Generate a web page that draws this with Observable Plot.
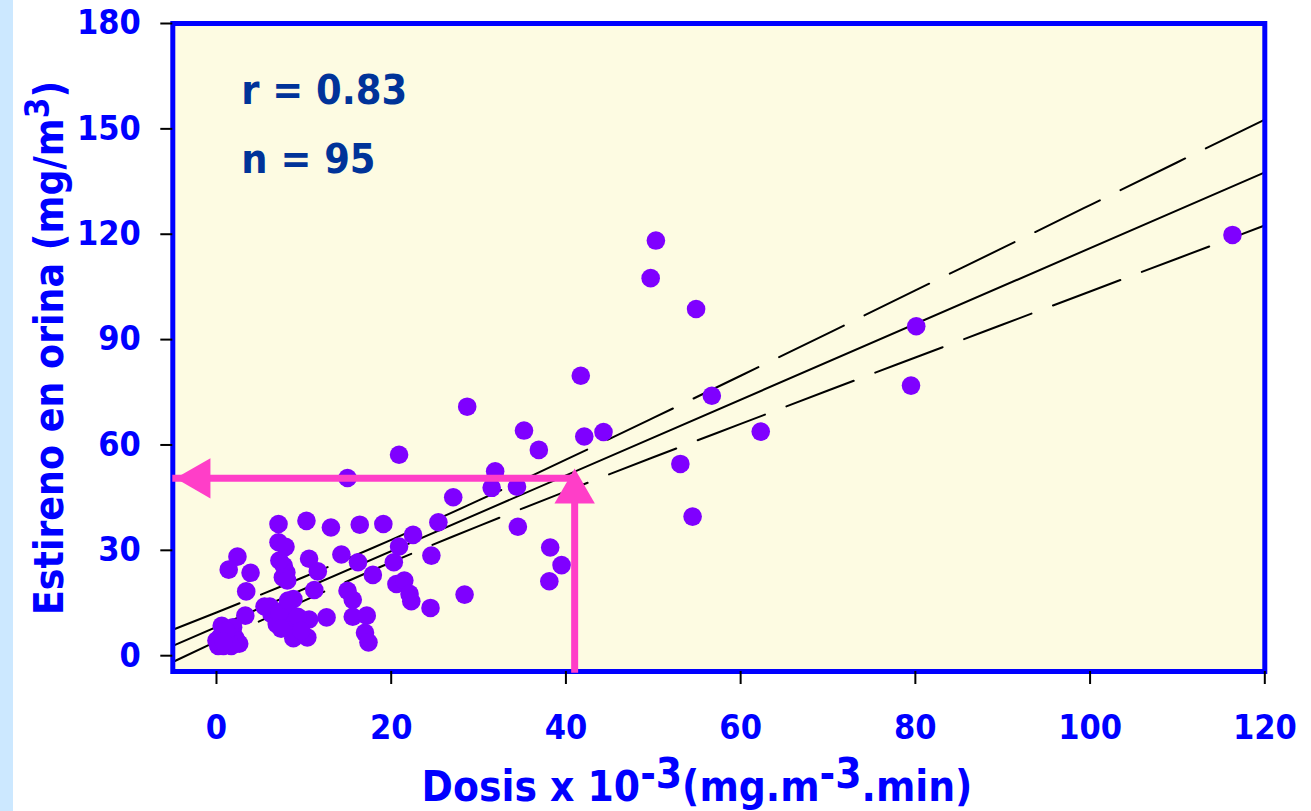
<!DOCTYPE html>
<html><head><meta charset="utf-8">
<script src="https://cdn.jsdelivr.net/npm/d3@7"></script>
<script src="https://cdn.jsdelivr.net/npm/@observablehq/plot@0.6"></script>
<style>
html,body{margin:0;padding:0;}
body{width:1311px;height:811px;overflow:hidden;background:linear-gradient(to right,#cce8ff 0,#cce8ff 13px,#ffffff 13px);}
#chart svg{display:block;}
</style></head><body><div id="chart"></div>
<script>
// ---- data ----
const dosis = [50.3,49.7,54.9,41.7,56.7,35.2,36.9,42.1,44.3,62.3,53.1,31.9,31.5,34.4,80.1,79.5,116.3,54.5,28.7,20.9,
  15.0,27.1,34.5,38.2,39.5,38.1,28.4,25.4,22.5,20.9,20.3,24.6,10.3,13.1,16.4,19.1,10.6,11.6,14.3,16.2,
  17.9,11.2,15.0,15.6,20.6,21.5,22.1,22.3,24.5,10.6,12.6,15.6,17.2,17.0,17.4,10.4,7.1,7.1,7.9,2.4,
  1.4,3.9,3.4,7.7,8.0,7.6,3.3,6.1,6.3,6.9,8.8,8.0,8.8,8.8,0.6,1.9,0.4,2.1,0.2,1.5,
  2.3,0.8,1.1,0.0,2.6,1.7,5.5,7.2,9.3,7.4,8.2,7.2,8.1,9.7,0.8];
const estireno = [118.2,107.5,98.7,79.7,74.0,64.1,58.6,62.4,63.7,63.8,54.6,52.5,47.8,48.1,93.8,76.9,119.8,39.6,70.9,57.2,
  50.6,45.1,36.7,30.8,25.8,21.2,17.4,38.0,34.4,31.1,26.6,28.5,38.4,36.5,37.3,37.5,27.6,24.0,28.8,26.6,
  23.0,18.7,18.5,15.9,20.4,21.4,17.6,15.5,13.6,10.3,10.9,11.1,11.4,6.5,3.8,5.2,37.5,32.3,31.0,28.2,
  24.5,23.6,18.3,25.6,23.7,22.3,11.4,14.0,11.9,9.0,16.1,13.8,9.5,5.0,8.5,8.1,5.2,5.2,2.8,3.3,
  4.3,2.8,7.1,4.3,3.4,2.8,14.0,12.2,11.1,7.7,15.7,27.1,21.4,7.1,4.0];

// regression line and confidence band
const regX = [-5, 120];
const regY = [2.8, 137.6];
const bandX = [-5, 0, 10, 20, 30, 40, 50, 60, 70, 80, 90, 100, 110, 120];
const bandUpper = [7.4, 12.3, 22.4, 33.0, 44.2, 55.8, 67.7, 79.7, 91.8, 104.0, 116.1, 128.3, 140.5, 152.6];
const bandLower = [-1.8, 4.1, 15.6, 26.6, 36.9, 46.8, 56.5, 66.0, 75.5, 84.9, 94.3, 103.7, 113.1, 122.5];

// pink reading arrows
const arrowX = [41];
const arrowY = [50.5];

const xTicks = [0, 20, 40, 60, 80, 100, 120];
const yTicks = [0, 30, 60, 90, 120, 150, 180];
const statsText = ["r = 0.83", "n = 95"];

// ---- build ----
const FONT = "'DejaVu Sans Condensed', 'DejaVu Sans', sans-serif";
const BLUE = "#0000ff";
const PINK = "#ff3ec8";
const pts = dosis.map((d, i) => ({x: d, y: estireno[i]}));
const reg = regX.map((d, i) => ({x: d, y: regY[i]}));
const up = bandX.map((d, i) => ({x: d, y: bandUpper[i]}));
const lo = bandX.map((d, i) => ({x: d, y: bandLower[i]}));
const xMin = -5, yMin = -4.5;

const chart = Plot.plot({
  width: 1311, height: 811,
  marginLeft: 172.3, marginRight: 46.7, marginTop: 23, marginBottom: 140,
  style: {background: "transparent", fontFamily: FONT, fontWeight: "bold", fontSize: "34px", color: BLUE},
  x: {domain: [xMin, 120], label: null},
  y: {domain: [yMin, 180], label: null},
  marks: [
    Plot.frame({fill: "#fdfbe2", stroke: "none"}),
    Plot.line(reg, {x: "x", y: "y", stroke: "black", strokeWidth: 2}),
    Plot.line(up, {x: "x", y: "y", stroke: "black", strokeWidth: 2, curve: "natural", strokeDasharray: "72,23"}),
    Plot.line(lo, {x: "x", y: "y", stroke: "black", strokeWidth: 2, curve: "natural", strokeDasharray: "72,23"}),
    Plot.dot(pts, {x: "x", y: "y", r: 9.3, fill: "#7f00ff", stroke: "none"}),
    Plot.frame({stroke: BLUE, strokeWidth: 5, fill: "none"}),
    Plot.ruleY(arrowY, {y: d => d, x1: xMin, x2: arrowX[0], stroke: PINK, strokeWidth: 7}),
    Plot.ruleX(arrowX, {x: d => d, y1: yMin - 0.5, y2: arrowY[0], stroke: PINK, strokeWidth: 7}),
    Plot.dot(arrowX, {x: d => d, y: () => arrowY[0], symbol: "triangle", r: 15, fill: PINK, dy: 13.5}),
    Plot.dot(arrowY, {x: () => xMin, y: d => d, symbol: "triangle", rotate: -90, r: 15, fill: PINK, dx: 26}),
    Plot.axisX(xTicks, {tickSize: 13, tickPadding: 30, stroke: "black", strokeWidth: 2, fill: BLUE, label: null, fontSize: 34, fontWeight: "bold"}),
    Plot.axisY(yTicks, {tickSize: 12, tickPadding: 20, stroke: "black", strokeWidth: 2, fill: BLUE, label: null, fontSize: 34, fontWeight: "bold"}),
    Plot.text([statsText[0]], {frameAnchor: "top-left", dx: 68.5, dy: 51, fill: "#003399", fontSize: 41, fontWeight: "bold", textAnchor: "start"}),
    Plot.text([statsText[1]], {frameAnchor: "top-left", dx: 68.5, dy: 120, fill: "#003399", fontSize: 41, fontWeight: "bold", textAnchor: "start"})
  ]
});
document.getElementById("chart").appendChild(chart);

// axis titles with superscripts
const svg = d3.select(chart);
const xt = svg.append("text")
  .attr("x", 697).attr("y", 801).attr("text-anchor", "middle")
  .attr("fill", BLUE).attr("font-family", FONT).attr("font-weight", "bold").attr("font-size", 42);
xt.append("tspan").text("Dosis x 10");
xt.append("tspan").attr("dy", -13).text("-3");
xt.append("tspan").attr("dy", 13).text("(mg.m");
xt.append("tspan").attr("dy", -13).text("-3");
xt.append("tspan").attr("dy", 13).text(".min)");

const yt = svg.append("text")
  .attr("transform", "translate(63,348) rotate(-90)").attr("text-anchor", "middle")
  .attr("fill", BLUE).attr("font-family", FONT).attr("font-weight", "bold").attr("font-size", 40.5);
yt.append("tspan").text("Estireno en orina (mg/m");
yt.append("tspan").attr("dy", -14).attr("font-size", 33).text("3");
yt.append("tspan").attr("dy", 14).text(")");
</script>
</body></html>
